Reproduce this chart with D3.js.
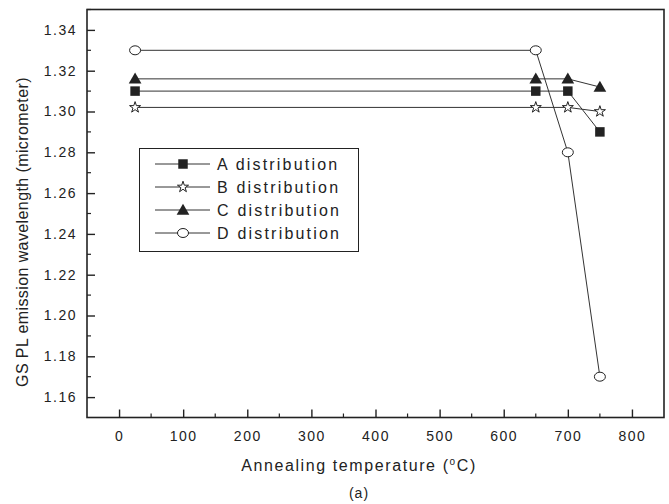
<!DOCTYPE html>
<html><head><meta charset="utf-8">
<script src="https://cdn.jsdelivr.net/npm/d3@7"></script>
<style>body{margin:0;background:#fff}svg{display:block}text{font-family:"Liberation Sans",Arial,sans-serif;fill:#222}</style>
</head><body><svg id="c" width="669" height="504"></svg>
<script>
const temps = [25, 650, 700, 750];
const seriesA = [1.310, 1.310, 1.310, 1.290];
const seriesB = [1.302, 1.302, 1.302, 1.300];
const seriesC = [1.316, 1.316, 1.316, 1.312];
const seriesD = [1.330, 1.330, 1.280, 1.170];
const seriesNames = ["A distribution", "B distribution", "C distribution", "D distribution"];
const xTicks = [0,100,200,300,400,500,600,700,800];
const yTicks = [1.16,1.18,1.20,1.22,1.24,1.26,1.28,1.30,1.32,1.34];

const svg = d3.select("#c");
const L=87, R=664, T=9.5, B=417.5;
const x = d3.scaleLinear().domain([-50,850]).range([L,R]);
const y = d3.scaleLinear().domain([1.15,1.35]).range([B,T]);
const ink="#222";

// frame
svg.append("rect").attr("x",L).attr("y",T).attr("width",R-L).attr("height",B-T)
  .attr("fill","none").attr("stroke",ink).attr("stroke-width",1.6);

// axes
const xAx = svg.append("g").attr("transform",`translate(0,${B})`)
  .call(d3.axisBottom(x).tickValues(xTicks).tickSizeInner(-8).tickSizeOuter(0).tickPadding(14).tickFormat(d3.format("d")));
const yAx = svg.append("g").attr("transform",`translate(${L},0)`)
  .call(d3.axisLeft(y).tickValues(yTicks).tickSizeInner(-8).tickSizeOuter(0).tickPadding(10).tickFormat(d3.format(".2f")));
[xAx,yAx].forEach(g=>{
  g.select(".domain").remove();
  g.selectAll(".tick line").attr("stroke",ink).attr("stroke-width",1.4);
  g.selectAll(".tick text").style("font-size","14px").style("letter-spacing","1.5px").attr("fill",ink);
});
// minor ticks
const xMinor = d3.range(50,850,100);
svg.append("g").selectAll("line").data(xMinor).join("line")
  .attr("x1",d=>x(d)).attr("x2",d=>x(d)).attr("y1",B).attr("y2",B-4)
  .attr("stroke",ink).attr("stroke-width",1.2);
const yMinor = d3.range(1.17,1.36,0.02);
svg.append("g").selectAll("line").data(yMinor).join("line")
  .attr("y1",d=>y(d)).attr("y2",d=>y(d)).attr("x1",L).attr("x2",L+4)
  .attr("stroke",ink).attr("stroke-width",1.2);

// titles
svg.append("text").attr("x",359).attr("y",471).attr("text-anchor","middle")
  .style("font-size","16px").style("letter-spacing","1.6px")
  .html('Annealing temperature (<tspan dy="-6" style="font-size:10px">o</tspan><tspan dy="6">C</tspan>)');
svg.append("text").attr("x",359).attr("y",498).attr("text-anchor","middle")
  .style("font-size","14px").style("letter-spacing","1px").text("(a)");
svg.append("text").attr("transform",`translate(28,232) rotate(-90)`).attr("text-anchor","middle")
  .style("font-size","16px").style("letter-spacing","0.4px").text("GS PL emission wavelength (micrometer)");

// data
const allSeries = [seriesA, seriesB, seriesC, seriesD];
const line = d3.line().x(d=>x(d[0])).y(d=>y(d[1]));
const kinds = ["square","star","triangle","circle"];
function marker(g, kind, cx, cy){
  if(kind==="circle"){
    g.append("ellipse").attr("cx",cx).attr("cy",cy).attr("rx",5.5).attr("ry",4.5)
      .attr("fill","#fff").attr("stroke",ink).attr("stroke-width",1);
  } else if(kind==="square"){
    g.append("path").attr("d",d3.symbol(d3.symbolSquare,90)()).attr("transform",`translate(${cx},${cy})`).attr("fill",ink);
  } else if(kind==="triangle"){
    g.append("path").attr("d",d3.symbol(d3.symbolTriangle,70)()).attr("transform",`translate(${cx},${cy+1})`).attr("fill",ink);
  } else {
    g.append("path").attr("d",d3.symbol(d3.symbolStar,38)()).attr("transform",`translate(${cx},${cy})`)
      .attr("fill","#fff").attr("stroke",ink).attr("stroke-width",1);
  }
}
const gData = svg.append("g");
allSeries.forEach((s,i)=>{
  const pts = temps.map((t,j)=>[t,s[j]]);
  gData.append("path").attr("d",line(pts)).attr("fill","none").attr("stroke","#333").attr("stroke-width",1);
});
allSeries.forEach((s,i)=>{
  temps.forEach((t,j)=>marker(gData,kinds[i],x(t),y(s[j])));
});

// legend
const lg = svg.append("g");
lg.append("rect").attr("x",139.5).attr("y",148.5).attr("width",219).attr("height",103)
  .attr("fill","#fff").attr("stroke",ink).attr("stroke-width",1);
const rowY = [164, 187, 210, 233];
seriesNames.forEach((n,i)=>{
  lg.append("line").attr("x1",155).attr("x2",210).attr("y1",rowY[i]).attr("y2",rowY[i]).attr("stroke","#333").attr("stroke-width",1);
  marker(lg,kinds[i],183,rowY[i]);
  lg.append("text").attr("x",217).attr("y",rowY[i]+6).style("font-size","16px").style("letter-spacing","2.2px").text(n);
});
</script></body></html>
